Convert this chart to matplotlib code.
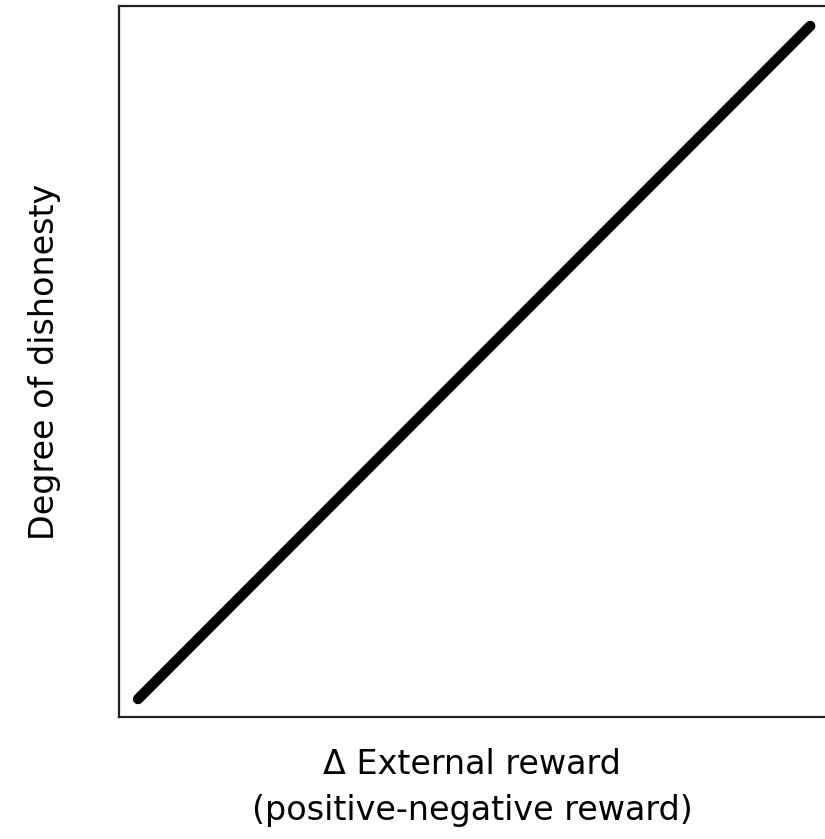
import matplotlib
matplotlib.use("Agg")
import matplotlib.pyplot as plt

# data: a straight monotone relation, start and end of the line
reward = [0, 1]
dishonesty = [0, 1]

x_label = "\u0394 External reward\n(positive-negative reward)"
y_label = "Degree of dishonesty"

plt.rcParams['font.family'] = ['DejaVu Sans']

fig = plt.figure(figsize=(8.25, 8.39), dpi=100)
ax = fig.add_axes([0.1442, 0.1454, 0.8558, 0.8469])

ax.plot(reward, dishonesty, color='black', linewidth=7.5, solid_capstyle='round')

ax.set_xlim(-0.0284, 1.022)
ax.set_ylim(-0.0267, 1.029)
ax.set_xticks([])
ax.set_yticks([])

for side in ['left', 'top', 'bottom']:
    ax.spines[side].set_linewidth(1.6)
    ax.spines[side].set_color('#222222')
ax.spines['right'].set_visible(False)

ax.set_xlabel(x_label, fontsize=24, linespacing=1.5, labelpad=22)
ax.set_ylabel(y_label, fontsize=24, labelpad=42)

fig.savefig("out.png", dpi=100)
